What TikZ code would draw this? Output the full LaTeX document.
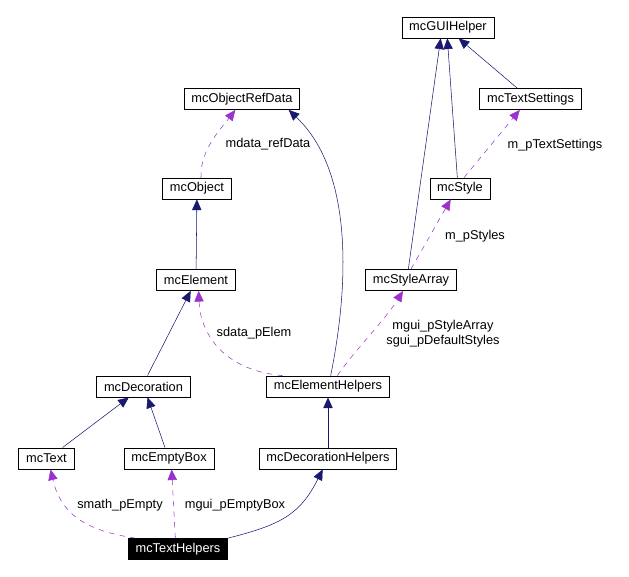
\documentclass[tikz,border=0pt]{standalone}
\usepackage{fontspec}
\setmainfont{Liberation Sans}
\usetikzlibrary{arrows.meta}
\definecolor{navyline}{RGB}{25,25,112}
\definecolor{usesline}{RGB}{154,50,205}
\begin{document}
\begin{tikzpicture}[x=0.75pt, y=-0.75pt, font=\fontsize{9.6}{11.5}\selectfont,
    cls/.style={draw, semithick, fill=white, minimum height=15.75pt, inner xsep=5.5pt, inner ysep=0pt},
    inherit/.style={navyline, -{Triangle[length=8pt, width=7pt]}},
    uses/.style={usesline, dash pattern=on 4pt off 4pt, -{Triangle[length=8pt, width=7pt]}},
    lbl/.style={align=center, inner sep=1pt, text=black}]
  \useasboundingbox (0,0) rectangle (629,577);
  % classes
  \node[cls] (gui) at (448,27.5) {mcGUIHelper};
  \node[cls] (tset) at (530.5,99) {mcTextSettings};
  \node[cls] (refd) at (242,99) {mcObjectRefData};
  \node[cls] (style) at (460,188.5) {mcStyle};
  \node[cls] (obj) at (197,188.5) {mcObject};
  \node[cls] (elem) at (196,280) {mcElement};
  \node[cls] (sarr) at (411,280) {mcStyleArray};
  \node[cls] (deco) at (143.5,386.5) {mcDecoration};
  \node[cls] (ehlp) at (328,386.5) {mcElementHelpers};
  \node[cls] (text) at (46.5,458.5) {mcText};
  \node[cls] (ebox) at (169,458.5) {mcEmptyBox};
  \node[cls] (dhlp) at (328,458.5) {mcDecorationHelpers};
  \node[cls, fill=black, text=white] (thlp) at (178,549) {mcTextHelpers};
  % inheritance
  \draw[inherit] ([xshift=-2pt]sarr.north) -- ([xshift=-5.5pt]gui.south);
  \draw[inherit] ([xshift=-2pt]style.north) -- ([xshift=-0.5pt]gui.south);
  \draw[inherit] ([xshift=-10pt]tset.north) -- ([xshift=8pt]gui.south);
  \draw[inherit] (elem) -- (obj);
  \draw[inherit] ([xshift=3pt]deco.north) -- ([xshift=-4pt]elem.south);
  \draw[inherit] ([xshift=2pt]ehlp.north) .. controls (350,280) and (352,170) .. ([xshift=35pt]refd.south);
  \draw[inherit] ([xshift=12pt]text.north) -- ([xshift=-11pt]deco.south);
  \draw[inherit] ([xshift=-3pt]ebox.north) -- ([xshift=3pt]deco.south);
  \draw[inherit] (dhlp) -- (ehlp);
  \draw[inherit] (thlp.north east) .. controls (280,525) and (300,515) .. ([xshift=-4pt]dhlp.south);
  % members
  \draw[uses] ([xshift=3pt]style.north) -- ([xshift=-8pt]tset.south);
  \draw[uses] (sarr.north) -- ([xshift=-7pt]style.south);
  \draw[uses] ([xshift=7pt]ehlp.north) .. controls (355,350) and (385,320) .. ([xshift=-6pt]sarr.south);
  \draw[uses] ([xshift=-34pt]ehlp.north) .. controls (220,370) and (200,330) .. ([xshift=2pt]elem.south);
  \draw[uses] ([xshift=3pt]obj.north) .. controls (200,150) and (220,130) .. ([xshift=-5pt]refd.south);
  \draw[uses] ([xshift=-32pt]thlp.north) .. controls (80,530) and (60,510) .. ([xshift=3pt]text.south);
  \draw[uses] ([xshift=-2pt]thlp.north) -- ([xshift=2pt]ebox.south);
  % member names
  \node[lbl] (l1) at (555,145) {m\_pTextSettings};
  \node[lbl] (l2) at (475,236) {m\_pStyles};
  \node[lbl] (l3) at (443,334) {mgui\_pStyleArray\\sgui\_pDefaultStyles};
  \node[lbl] (l4) at (254,333) {sdata\_pElem};
  \node[lbl] (l5) at (268,144) {mdata\_refData};
  \node[lbl] (l6) at (120,505) {smath\_pEmpty};
  \node[lbl] (l7) at (235,505) {mgui\_pEmptyBox};
\end{tikzpicture}
\end{document}
